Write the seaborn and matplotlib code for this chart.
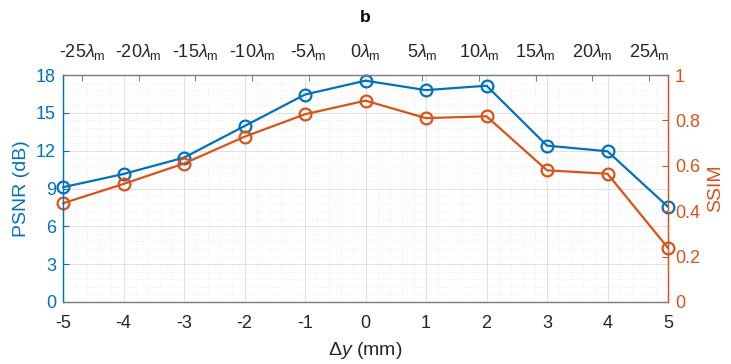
import numpy as np
import pandas as pd
import matplotlib
matplotlib.use("Agg")
import matplotlib.pyplot as plt
from matplotlib.ticker import MultipleLocator, FixedLocator
import seaborn as sns

# Axial offset of the sample (mm)
dy_mm = [-5, -4, -3, -2, -1, 0, 1, 2, 3, 4, 5]
# Reconstruction quality at each offset
psnr_db = [9.1, 10.15, 11.45, 13.95, 16.45, 17.55, 16.8, 17.15, 12.4, 11.95, 7.55]
ssim = [0.435, 0.52, 0.61, 0.728, 0.827, 0.887, 0.81, 0.818, 0.58, 0.565, 0.238]
# Top axis: offset in units of the mean wavelength
lambda_ticks = [-25, -20, -15, -10, -5, 0, 5, 10, 15, 20, 25]
lambda_m_mm = 0.1875

BLUE = "#0072BD"
ORANGE = "#D95319"
DARK = "#262626"

sns.set_theme(style="white")
plt.rcParams["font.family"] = ["Liberation Sans", "DejaVu Sans"]
plt.rcParams["axes.unicode_minus"] = False
plt.rcParams["mathtext.fontset"] = "custom"
plt.rcParams["mathtext.rm"] = "Liberation Sans"
plt.rcParams["mathtext.it"] = "Liberation Sans:italic"
plt.rcParams["mathtext.bf"] = "Liberation Sans:bold"

df = pd.DataFrame({"dy": dy_mm, "psnr": psnr_db, "ssim": ssim})

fig = plt.figure(figsize=(7.31, 3.64), dpi=100)
ax = fig.add_axes([63 / 731, 62 / 364, 605 / 731, 227 / 364])
ax2 = ax.twinx()

line_kw = dict(marker="o", markersize=8.5, markerfacecolor="none",
               markeredgewidth=1.6, linewidth=1.6)
sns.lineplot(data=df, x="dy", y="psnr", ax=ax, color=BLUE,
             markeredgecolor=BLUE, clip_on=False, **line_kw)
sns.lineplot(data=df, x="dy", y="ssim", ax=ax2, color=ORANGE,
             markeredgecolor=ORANGE, clip_on=False, **line_kw)

ax.set_xlim(-5, 5)
ax.set_ylim(0, 18)
ax2.set_ylim(0, 1)

ax.xaxis.set_major_locator(MultipleLocator(1))
ax.xaxis.set_minor_locator(MultipleLocator(0.2))
ax.yaxis.set_major_locator(MultipleLocator(3))
ax.yaxis.set_minor_locator(MultipleLocator(0.6))
ax2.set_yticks([0, 0.2, 0.4, 0.6, 0.8, 1.0])
ax2.set_yticklabels(["0", "0.2", "0.4", "0.6", "0.8", "1"])

ax.grid(which="major", color="#dcdcdc", linewidth=0.6)
ax.grid(which="minor", color="#e8e8e8", linewidth=0.5, linestyle=(0, (1, 1.5)))
ax.set_axisbelow(True)

tick_fs = 13
ax.tick_params(axis="x", which="major", direction="in", length=4, width=0.8,
               colors="#808080", labelcolor=DARK, labelsize=tick_fs, pad=9)
ax.tick_params(axis="x", which="minor", length=0)
ax.tick_params(axis="y", which="major", direction="in", length=4, width=0.8,
               colors=BLUE, labelcolor=BLUE, labelsize=tick_fs, pad=5)
ax.tick_params(axis="y", which="minor", length=0)
ax2.tick_params(axis="y", which="major", direction="in", length=4, width=0.8,
                colors=ORANGE, labelcolor=ORANGE, labelsize=tick_fs, pad=5)

ax.set_xlabel(r"$\Delta\mathit{y}$ (mm)", fontsize=14, color=DARK, labelpad=6)
ax.set_ylabel("PSNR (dB)", fontsize=14, color=BLUE, labelpad=4)
ax2.set_ylabel("SSIM", fontsize=14, color=ORANGE, labelpad=5)

for a in (ax, ax2):
    a.spines["top"].set_color("#808080")
    a.spines["bottom"].set_color("#808080")
    a.spines["left"].set_color(BLUE)
    a.spines["right"].set_color(ORANGE)
    for s in a.spines.values():
        s.set_linewidth(0.9)

top = ax.secondary_xaxis("top", functions=(lambda x: x / lambda_m_mm,
                                            lambda t: t * lambda_m_mm))
top.xaxis.set_major_locator(FixedLocator(lambda_ticks))
top.set_xticklabels([f"{v}" + r"$\lambda_\mathrm{m}$" for v in lambda_ticks])
top.tick_params(axis="x", direction="in", length=4, width=0.8,
                colors="#808080", labelcolor=DARK, labelsize=tick_fs, pad=9)
top.spines["top"].set_visible(False)

fig.text(0.5 * (63 + 668) / 731, 1 - 18 / 364, "b", ha="center", va="center",
         fontsize=12.5, fontweight="bold", color="black")

fig.savefig("out.png", dpi=100)
